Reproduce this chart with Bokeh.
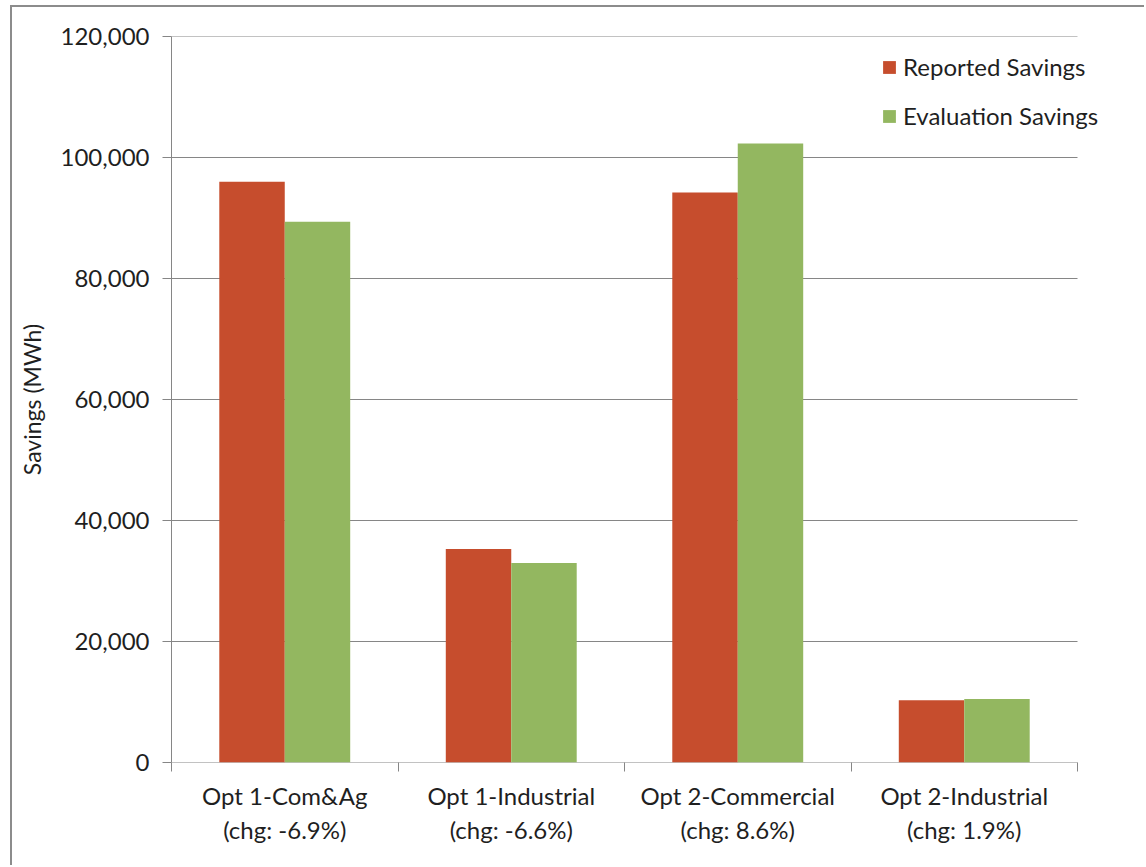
from bokeh.plotting import figure
from bokeh.models import (ColumnDataSource, Range1d, FixedTicker, NumeralTickFormatter,
                          Legend, LegendItem)
from bokeh.transform import dodge
from bokeh.embed import file_html
from bokeh.resources import INLINE

# Savings by program option (MWh)
categories = ["Opt 1-Com&Ag", "Opt 1-Industrial", "Opt 2-Commercial", "Opt 2-Industrial"]
changes = ["-6.9%", "-6.6%", "8.6%", "1.9%"]
reported = [96000, 35300, 94200, 10300]
evaluation = [89400, 32970, 102300, 10500]
y_ticks = [0, 20000, 40000, 60000, 80000, 100000, 120000]

FONT = "Lato"
TEXT = "#1f1f1f"
GRID = "#868686"
RED = "#C64D2D"
GREEN = "#93B760"

n = len(categories)
pos = [i + 0.5 for i in range(n)]
src = ColumnDataSource(dict(x=pos, reported=reported, evaluation=evaluation))
grid_src = ColumnDataSource(dict(y=y_ticks, x0=[0] * len(y_ticks), x1=[n] * len(y_ticks)))

# The frame runs to the right edge so the legend is not cut off; the
# category area itself occupies 906 of the frame's 975 pixels.
W, H = 1134, 860
BL, BT, BB = 159, 29, 105
frame_w = W - BL
cat_w = 906
p = figure(width=W, height=H,
           x_range=Range1d(0, n * frame_w / cat_w), y_range=Range1d(0, 120000),
           output_backend="svg", toolbar_location=None,
           min_border_left=BL, min_border_right=0,
           min_border_top=BT, min_border_bottom=BB)
p.outline_line_color = None
p.styles = {"margin-left": "10px", "margin-top": "5px",
            "border-left": "2px solid #8c8c8c", "border-top": "2px solid #8c8c8c"}

# horizontal gridlines spanning the category area only
p.segment(x0="x0", x1="x1", y0="y", y1="y", source=grid_src,
          line_color=GRID, line_width=1, level="underlay")

bw = 0.289
r1 = p.vbar(x=dodge("x", -bw / 2, range=p.x_range), top="reported", width=bw,
            source=src, fill_color=RED, line_color=None)
r2 = p.vbar(x=dodge("x", bw / 2, range=p.x_range), top="evaluation", width=bw,
            source=src, fill_color=GREEN, line_color=None)

# x axis: labels at group centres, tick marks at group boundaries
xa = p.xaxis[0]
xa.ticker = FixedTicker(ticks=pos, minor_ticks=list(range(n + 1)))
xa.major_label_overrides = {x: f"{c}\n(chg: {chg})" for x, c, chg in zip(pos, categories, changes)}
xa.major_tick_out = 0
xa.major_tick_in = 0
xa.minor_tick_out = 9
xa.minor_tick_in = 0
xa.minor_tick_line_color = GRID
xa.axis_line_color = None
xa.major_label_text_font = FONT
xa.major_label_text_font_size = "24px"
xa.major_label_text_color = TEXT
xa.major_label_standoff = 9

ya = p.yaxis[0]
ya.ticker = FixedTicker(ticks=y_ticks, minor_ticks=[])
ya.formatter = NumeralTickFormatter(format="0,0")
ya.major_tick_out = 9
ya.major_tick_in = 0
ya.major_tick_line_color = GRID
ya.axis_line_color = GRID
ya.major_label_text_font = FONT
ya.major_label_text_font_size = "24px"
ya.major_label_text_color = TEXT
ya.major_label_standoff = 13
ya.axis_label = "Savings (MWh)"
ya.axis_label_text_font = FONT
ya.axis_label_text_font_size = "23px"
ya.axis_label_text_font_style = "normal"
ya.axis_label_text_color = TEXT
ya.axis_label_standoff = 12

p.xgrid.visible = False
p.ygrid.visible = False

legend = Legend(items=[LegendItem(label="Reported Savings", renderers=[r1]),
                       LegendItem(label="Evaluation Savings", renderers=[r2])],
                location=(710, 632))
legend.glyph_width = 16
legend.glyph_height = 16
legend.label_standoff = 6
legend.label_text_font = FONT
legend.label_text_font_size = "24px"
legend.label_text_color = TEXT
legend.label_height = 24
legend.spacing = 20
legend.padding = 0
legend.margin = 0
legend.border_line_color = None
legend.background_fill_alpha = 0
p.add_layout(legend, "center")

open("out.html", "w").write(file_html(p, INLINE))
